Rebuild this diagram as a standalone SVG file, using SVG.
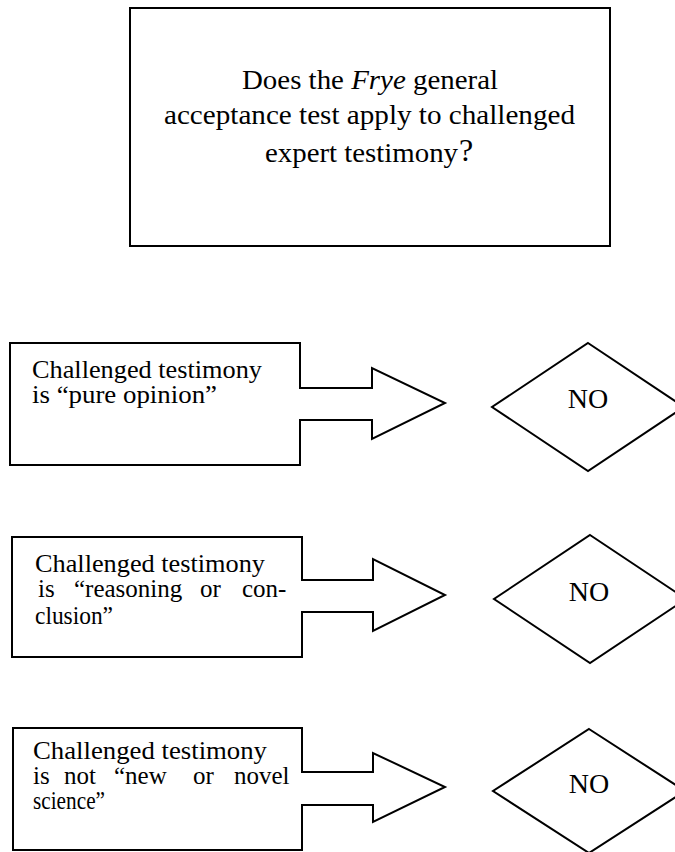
<svg xmlns="http://www.w3.org/2000/svg" width="675" height="852" viewBox="0 0 675 852">
<style>
.shape{fill:#fff;stroke:#000;stroke-width:2;stroke-linejoin:miter}
.t{font-family:"Liberation Serif","Times New Roman",serif;fill:#000}
.title{font-size:28px}
.body{font-size:25px}
.no{font-size:28px;text-anchor:middle}
</style>
<rect width="675" height="852" fill="#fff"/>
<g id="question">
<rect class="shape" x="130" y="8" width="480" height="238"/>
<text class="t title" x="242" y="89" textLength="256" lengthAdjust="spacingAndGlyphs">Does the <tspan font-style="italic">Frye</tspan> general</text>
<text class="t title" x="164" y="124" textLength="411" lengthAdjust="spacingAndGlyphs">acceptance test apply to challenged</text>
<text class="t title" x="265" y="162" textLength="193" lengthAdjust="spacingAndGlyphs">expert testimony</text>
<text class="t" x="459" y="161" font-size="32">?</text>
</g>
<g id="connectors">
<path class="shape" d="M10,343 H300 V388 H372 V368 L445,403 L372,439 V420 H300 V465 H10 Z"/>
<path class="shape" d="M12,537 H302 V580 H373 V559 L445,595 L373,631 V612 H302 V657 H12 Z"/>
<path class="shape" d="M13,728 H302 V772 H373 V753 L445,787 L373,822 V805 H302 V850 H13 Z"/>
</g>
<g id="cond1">
<text class="t body" x="32" y="378" textLength="230" lengthAdjust="spacingAndGlyphs">Challenged testimony</text>
<text class="t body" x="32" y="403" textLength="185" lengthAdjust="spacingAndGlyphs">is “pure opinion”</text>
</g>
<g id="cond2">
<text class="t body" x="35" y="572" textLength="230" lengthAdjust="spacingAndGlyphs">Challenged testimony</text>
<text class="t body" y="597"><tspan x="38">is</tspan><tspan x="74">“reasoning</tspan><tspan x="200">or</tspan><tspan x="242">con-</tspan></text>
<text class="t body" x="35" y="624" textLength="78" lengthAdjust="spacingAndGlyphs">clusion”</text>
</g>
<g id="cond3">
<text class="t body" x="33" y="759" textLength="234" lengthAdjust="spacingAndGlyphs">Challenged testimony</text>
<text class="t body" y="784"><tspan x="33">is</tspan><tspan x="64">not</tspan><tspan x="114">“new</tspan><tspan x="193">or</tspan><tspan x="234">novel</tspan></text>
<text class="t body" x="33" y="809" textLength="72" lengthAdjust="spacingAndGlyphs">science”</text>
</g>
<g id="no1">
<polygon class="shape" points="588,343 684,407 588,471 492,407"/>
<text class="t no" x="588" y="408">NO</text>
</g>
<g id="no2">
<polygon class="shape" points="590,535 686,599 590,663 494,599"/>
<text class="t no" x="589" y="601">NO</text>
</g>
<g id="no3">
<polygon class="shape" points="589,729 685,791 589,853 493,791"/>
<text class="t no" x="589" y="793">NO</text>
</g>
</svg>
